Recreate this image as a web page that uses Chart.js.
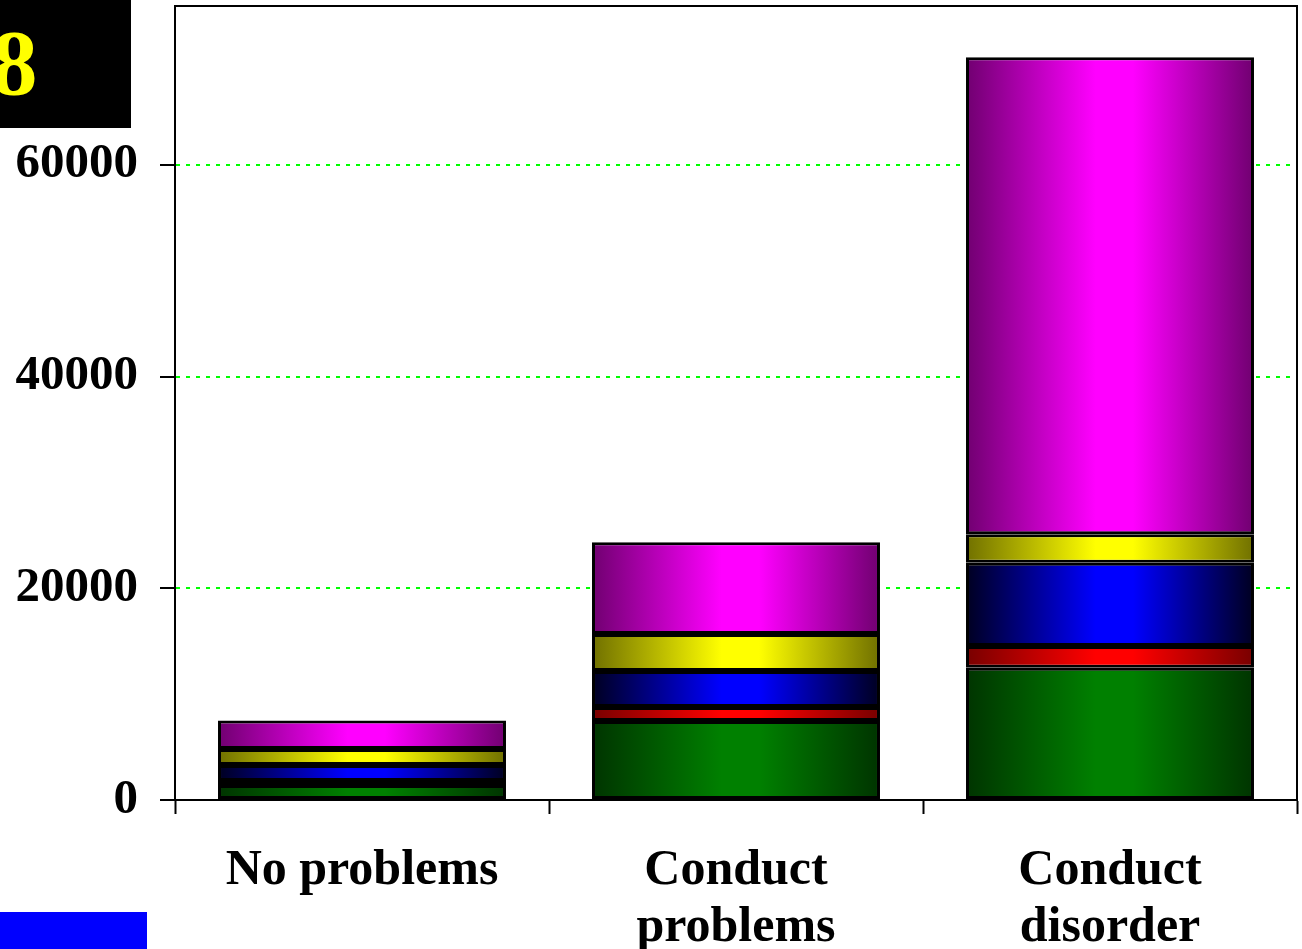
<!DOCTYPE html>
<html>
<head>
<meta charset="utf-8">
<script src="https://cdn.jsdelivr.net/npm/chart.js@4/dist/chart.umd.min.js"></script>
<style>
  html, body { margin: 0; padding: 0; background: #fff; overflow: hidden; }
  #wrap { position: absolute; left: 0; top: 0; width: 1302px; height: 993px; }
  #badge {
    position: absolute; left: 0; top: 0; width: 131px; height: 128px;
    background: #000; overflow: hidden;
  }
  #badge span {
    position: absolute; left: -9px; top: 16px;
    font: bold 93px "Liberation Serif", "Times New Roman", serif;
    line-height: 1; color: #ffff00;
  }
  #strip {
    position: absolute; left: 0; top: 912px; width: 147px; height: 40px;
    background: #0000ff;
  }
</style>
</head>
<body>
<div id="wrap"><canvas id="c"></canvas></div>
<div id="badge"><span>8</span></div>
<div id="strip"></div>
<script>
// Categories (multi-line labels) and stacked segment values, bottom to top
const categories = [['No problems'], ['Conduct', 'problems'], ['Conduct', 'disorder']];
const greenValues   = [1420, 7460, 12500];
const redValues     = [380, 1330, 2050];
const blueValues    = [1510, 3400, 7870];
const yellowValues  = [1510, 3500, 2680];
const magentaValues = [2700, 8650, 45050];
const yTicks = [0, 20000, 40000, 60000];

// Edge / centre colours for the horizontal shading of each segment
const shades = {
  green:   ['#003400', '#008000'],
  red:     ['#780000', '#ff0000'],
  blue:    ['#000020', '#0000ff'],
  yellow:  ['#707000', '#ffff00'],
  magenta: ['#700070', '#ff00ff']
};

const BAR_PCT = 0.77;

function shaded(key) {
  const [edge, centre] = shades[key];
  return (ctx) => {
    const chart = ctx.chart;
    const area = chart.chartArea;
    const xs = chart.scales.x;
    if (!area || !xs) return centre;
    const cw = (area.right - area.left) / categories.length;
    const cx = xs.getPixelForValue(ctx.dataIndex);
    const half = cw * BAR_PCT / 2;
    const g = chart.ctx.createLinearGradient(cx - half, 0, cx + half, 0);
    g.addColorStop(0, edge);
    g.addColorStop(0.45, centre);
    g.addColorStop(0.58, centre);
    g.addColorStop(1, edge);
    return g;
  };
}

function series(label, data, key) {
  return {
    label, data,
    backgroundColor: shaded(key),
    borderColor: '#000',
    borderWidth: 3,
    borderSkipped: false,
    barPercentage: BAR_PCT,
    categoryPercentage: 1
  };
}

// Frame on the top and right of the plot area
const frame = {
  id: 'frame',
  afterDraw(chart) {
    const { ctx, chartArea: a } = chart;
    ctx.save();
    ctx.strokeStyle = '#000';
    ctx.lineWidth = 2;
    ctx.beginPath();
    ctx.moveTo(a.left, a.top);
    ctx.lineTo(a.right, a.top);
    ctx.lineTo(a.right, a.bottom);
    ctx.stroke();
    ctx.restore();
  }
};

const serif = '"Liberation Serif", "Times New Roman", serif';
const yFont = { family: serif, size: 49, weight: 'bold', lineHeight: 1.17 };
const xFont = { family: serif, size: 50, weight: 'bold', lineHeight: 1.15 };

new Chart(document.getElementById('c'), {
  type: 'bar',
  data: {
    labels: categories,
    datasets: [
      series('green', greenValues, 'green'),
      series('red', redValues, 'red'),
      series('blue', blueValues, 'blue'),
      series('yellow', yellowValues, 'yellow'),
      series('magenta', magentaValues, 'magenta')
    ]
  },
  options: {
    responsive: true,
    maintainAspectRatio: false,
    animation: false,
    layout: { padding: { left: 14, top: 6, right: 5, bottom: 8 } },
    plugins: { legend: { display: false }, tooltip: { enabled: false } },
    scales: {
      x: {
        stacked: true,
        offset: true,
        grid: {
          offset: true,
          drawOnChartArea: false,
          drawTicks: true,
          tickLength: 14,
          tickColor: '#000',
          tickWidth: 2
        },
        border: { display: true, color: '#000', width: 2 },
        ticks: { color: '#000', font: xFont, padding: 28, maxRotation: 0, autoSkip: false }
      },
      y: {
        stacked: true,
        min: 0,
        max: 75000,
        afterBuildTicks: (s) => { s.ticks = yTicks.map(v => ({ value: v })); },
        afterFit: (s) => { s.paddingTop = 0; s.width = 161; },
        grid: {
          color: (c) => (c.tick && c.tick.value === 0) ? 'rgba(0,0,0,0)' : '#00ff00',
          lineWidth: 2,
          drawTicks: true,
          tickLength: 15,
          tickColor: '#000',
          tickWidth: 2
        },
        border: { display: true, color: '#000', width: 2, dash: [4, 6] },
        ticks: { color: '#000', font: yFont, padding: 22, callback: (v) => String(v) }
      }
    }
  },
  plugins: [frame]
});
</script>
</body>
</html>
